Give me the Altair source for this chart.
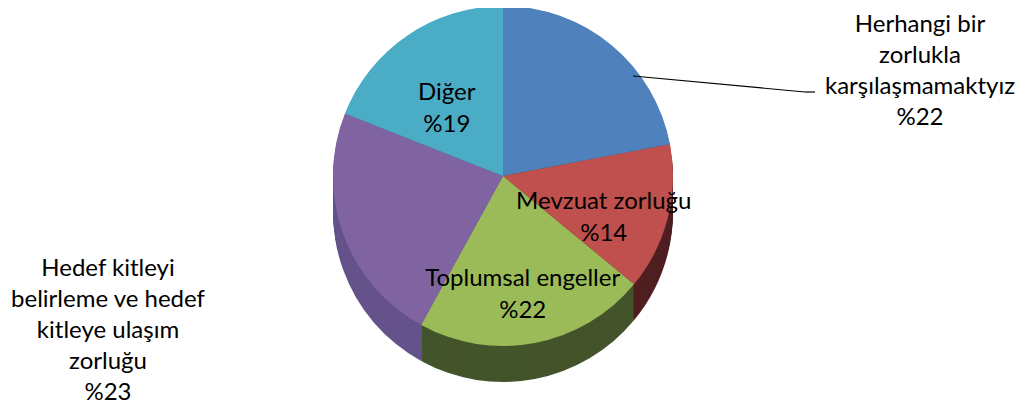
import altair as alt
import pandas as pd

categories = ["Herhangi bir zorlukla karşılaşmamaktyız", "Mevzuat zorluğu", "Toplumsal engeller",
              "Hedef kitleyi belirleme ve hedef kitleye ulaşım zorluğu", "Diğer"]
values = [22, 14, 22, 23, 19]
top_colors = ["#4F81BD", "#C0504D", "#9BBB59", "#8064A2", "#4BACC6"]
side_colors = ["#2E4D73", "#4F1F20", "#44542A", "#65528A", "#2D7386"]
label_diger = ["", "", "", "", "Diğer\n%19"]
label_mevzuat = ["", "Mevzuat zorluğu\n%14", "", "", ""]
label_toplumsal = ["", "", "Toplumsal engeller\n%22", "", ""]

df = pd.DataFrame({
    "cat": categories,
    "value": values,
    "idx": list(range(len(values))),
    "top": top_colors,
    "side": side_colors,
    "l_diger": label_diger,
    "l_mevzuat": label_mevzuat,
    "l_toplumsal": label_toplumsal,
})

CX, CY, R, DEPTH = 495, 168, 170, 36
FONT = "Lato"
FS = 24
LH = 31

base = alt.Chart(df).encode(
    theta=alt.Theta("value:Q", stack=True),
    order=alt.Order("idx:Q"),
)

layers = []
for k in range(DEPTH, 0, -2):
    layers.append(base.mark_arc(outerRadius=R).encode(
        color=alt.Color("side:N", scale=None),
        x=alt.value(CX), y=alt.value(CY + k),
    ))

layers.append(base.mark_arc(outerRadius=R).encode(
    color=alt.Color("top:N", scale=None),
    x=alt.value(CX), y=alt.value(CY),
))

for field, rad in [("l_diger", 100), ("l_mevzuat", 104), ("l_toplumsal", 105)]:
    layers.append(base.mark_text(font=FONT, fontSize=FS, lineBreak="\n", color="black",
                                 lineHeight=32, radius=rad).encode(
        text=f"{field}:N",
        x=alt.value(CX), y=alt.value(CY),
    ))

# leader line for the outer label of the first slice
leader = alt.Chart(df.head(1)).mark_rule(color="black", strokeWidth=1.2).encode(
    x=alt.value(625), y=alt.value(68), x2=alt.value(797), y2=alt.value(84))
leader2 = alt.Chart(df.head(1)).mark_rule(color="black", strokeWidth=1.2).encode(
    x=alt.value(797), y=alt.value(84), x2=alt.value(807), y2=alt.value(84))
layers += [leader, leader2]

outer1 = alt.Chart(df.head(1)).mark_text(font=FONT, fontSize=FS, lineBreak="\n", lineHeight=LH,
                                        align="center", baseline="top").encode(
    text=alt.value("Herhangi bir\nzorlukla\nkarşılaşmamaktyız\n%22"),
    x=alt.value(912), y=alt.value(5))
outer2 = alt.Chart(df.head(1)).mark_text(font=FONT, fontSize=FS, lineBreak="\n", lineHeight=LH,
                                        align="center", baseline="top").encode(
    text=alt.value("Hedef kitleyi\nbelirleme ve hedef\nkitleye ulaşım\nzorluğu\n%23"),
    x=alt.value(100), y=alt.value(249))
layers += [outer1, outer2]

chart = alt.layer(*layers).properties(
    width=1013, height=401, padding=0, autosize=alt.AutoSizeParams(type="none"),
).configure_view(stroke=None)

chart.save("out.html", embed_options={"renderer": "svg", "actions": False})
